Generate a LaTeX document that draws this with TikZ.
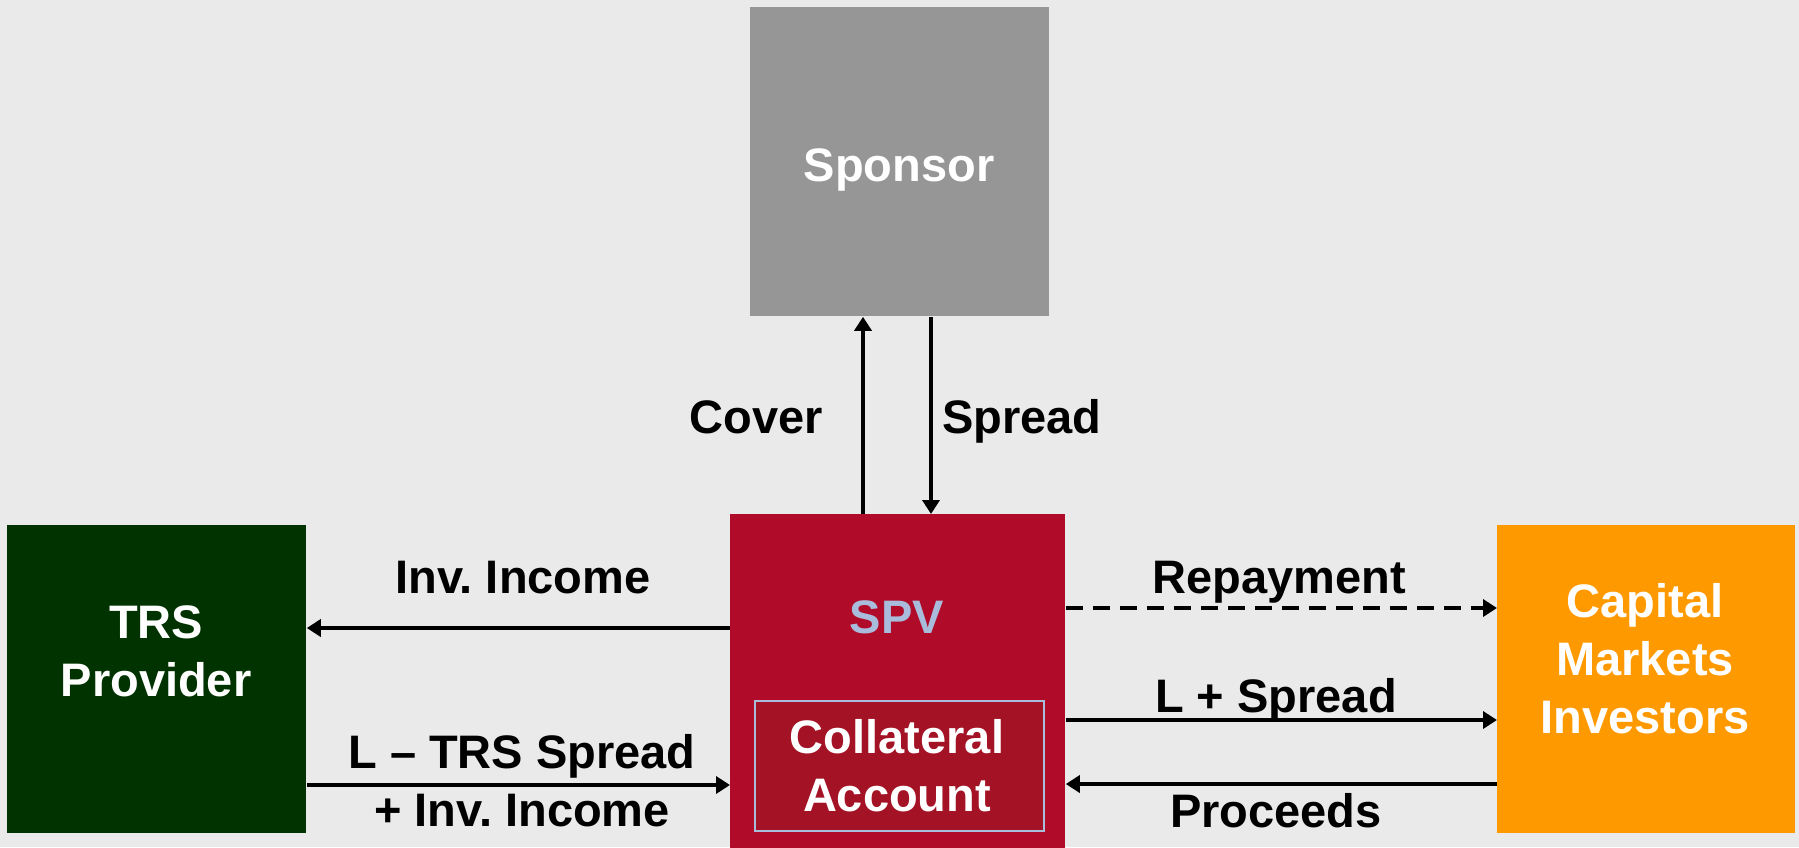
\documentclass[tikz,border=0pt]{standalone}
\usepackage{fontspec}
\setmainfont{Liberation Sans}
\usetikzlibrary{arrows.meta}
\frenchspacing
\definecolor{bg}{HTML}{EAEAEA}
\definecolor{sponsorgray}{HTML}{969696}
\definecolor{spvred}{HTML}{B00B28}
\definecolor{collred}{HTML}{A31225}
\definecolor{paleblue}{HTML}{A9BCDC}
\definecolor{trsgreen}{HTML}{003300}
\definecolor{capor}{HTML}{FF9900}
\tikzset{
  box/.style={draw=none, inner sep=0pt, anchor=north west},
  lbl/.style={font=\bfseries\fontsize{23.5pt}{29pt}\selectfont, inner sep=0pt, align=center},
  wlbl/.style={lbl, text=white},
  arr/.style={line width=2.3pt, -{Triangle[length=7pt,width=8.5pt]}},
  dsh/.style={dash pattern=on 8.5pt off 5pt}
}
\begin{document}
\begin{tikzpicture}[x=0.5pt,y=-0.5pt]
\fill[bg] (0,0) rectangle (1799,847);
\useasboundingbox (0,0) rectangle (1799,847);
% boxes
\node[box, fill=sponsorgray, minimum width=149.5pt, minimum height=154.5pt] (sponsor) at (750,7) {};
\node[box, fill=spvred, minimum width=167.5pt, minimum height=170pt] (spv) at (730,514) {};
\node[box, fill=collred, draw=paleblue, line width=0.8pt, minimum width=144.5pt, minimum height=65pt] (coll) at (754,700) {};
\node[box, fill=trsgreen, minimum width=149.5pt, minimum height=154pt] (trs) at (7,525) {};
\node[box, fill=capor, minimum width=149pt, minimum height=154pt] (cap) at (1497,525) {};
% box texts
\node[wlbl, anchor=base] (sponsortxt) at (899,181) {Sponsor};
\node[lbl, anchor=base, text=paleblue] (spvtxt) at (897,633) {SPV};
\node[wlbl] (colltxt) at (897,766) {Collateral\\Account};
\node[wlbl] (trstxt) at (156,651) {TRS\\Provider};
\node[wlbl] (captxt) at (1645,658.5) {Capital\\Markets\\Investors};
% connector positions
\coordinate (coverx) at (863,0);
\coordinate (spreadx) at (931,0);
\coordinate (invy) at (0,628);
\coordinate (ltrsy) at (0,785);
\coordinate (repy) at (0,608);
\coordinate (lspy) at (0,720);
\coordinate (proy) at (0,784);
% connectors
\draw[arr] (spv.north -| coverx) -- (sponsor.south -| coverx);
\draw[arr] (sponsor.south -| spreadx) -- (spv.north -| spreadx);
\draw[arr] (spv.west |- invy) -- (trs.east |- invy);
\draw[arr] (trs.east |- ltrsy) -- (spv.west |- ltrsy);
\draw[arr, dsh] (spv.east |- repy) -- (cap.west |- repy);
\draw[arr] (spv.east |- lspy) -- (cap.west |- lspy);
\draw[arr] (cap.west |- proy) -- (spv.east |- proy);
% connector labels
\node[lbl, anchor=base] (cover) at (756,433) {Cover};
\node[lbl, anchor=base] (spread) at (1022,433) {Spread};
\node[lbl, anchor=base] (inv) at (523,593) {Inv. Income};
\node[lbl] (ltrs) at (522,780.5) {L – TRS Spread\\+ Inv. Income};
\node[lbl, anchor=base] (repay) at (1279,593) {Repayment};
\node[lbl, anchor=base] (lspread) at (1276,712) {L + Spread};
\node[lbl, anchor=base] (proceeds) at (1276,827) {Proceeds};
\end{tikzpicture}
\end{document}
